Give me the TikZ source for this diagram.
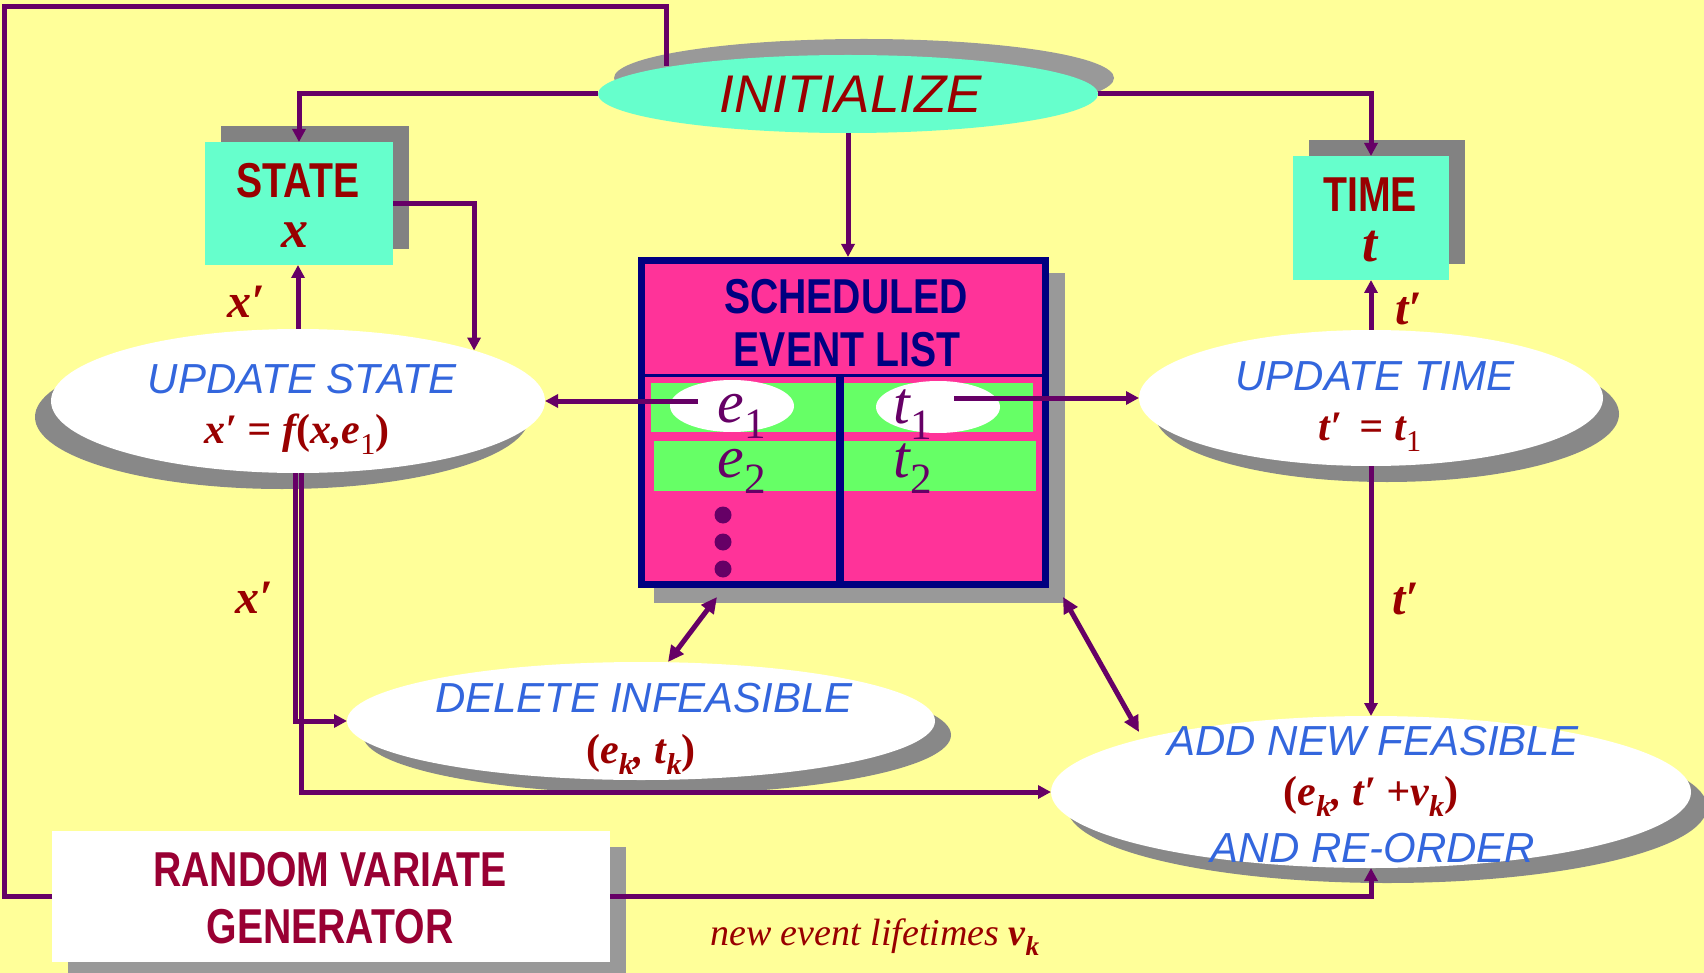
\documentclass[tikz,border=0pt]{standalone}
\usepackage{fontspec}
\usepackage{graphicx}
\setmainfont{Liberation Serif}
\setsansfont{Liberation Sans}
\newfontfamily\narrowsans[FakeStretch=0.8]{Liberation Sans Bold}
\usetikzlibrary{shapes.geometric,arrows.meta,shadows}
\definecolor{bgyellow}{HTML}{FFFF99}
\definecolor{lineviolet}{HTML}{660066}
\definecolor{aqua}{HTML}{66FFCC}
\definecolor{ellgray}{HTML}{888888}
\definecolor{boxgray}{HTML}{828282}
\definecolor{listgray}{HTML}{999999}
\definecolor{hotpink}{HTML}{FF3399}
\definecolor{navyb}{HTML}{000080}
\definecolor{lgreen}{HTML}{66FF66}
\definecolor{textblue}{HTML}{3366DD}
\definecolor{darkred}{HTML}{990000}
\definecolor{crimson}{HTML}{990033}
\newcommand\lo[1]{\raisebox{-0.28em}{\scalebox{0.72}{#1}}}
\newcommand\lpar{{\upshape(}}
\newcommand\rpar{{\upshape)}}
\tikzset{
  conn/.style={draw=lineviolet, line width=5pt},
  arr/.style={conn, -{Triangle[length=13pt,width=13pt]}},
  dblarr/.style={conn, {Triangle[length=16pt,width=15pt]}-{Triangle[length=16pt,width=15pt]}},
  procell/.style={ellipse, fill=white, inner sep=0pt, outer sep=0pt},
  shad/.style 2 args={drop shadow={shadow xshift=#1pt, shadow yshift=#2pt, fill=ellgray, opacity=1}},
  varbox/.style={rectangle, fill=aqua, inner sep=0pt, outer sep=0pt,
     drop shadow={shadow xshift=16pt, shadow yshift=16pt, fill=boxgray, opacity=1}},
  lbl/.style={anchor=base, inner sep=0pt},
  boxfont/.style={lbl, font=\narrowsans\fontsize{49pt}{55pt}\selectfont},
  procfont/.style={lbl, text=textblue, font=\sffamily\itshape\fontsize{42pt}{50pt}\selectfont},
  formfont/.style={lbl, text=darkred, font=\rmfamily\bfseries\itshape\fontsize{42pt}{50pt}\selectfont},
  varfont/.style={lbl, text=darkred, font=\rmfamily\bfseries\itshape\fontsize{54pt}{60pt}\selectfont},
  edgefont/.style={lbl, text=darkred, font=\rmfamily\bfseries\itshape\fontsize{48pt}{55pt}\selectfont},
  listfont/.style={lbl, text=lineviolet, font=\rmfamily\itshape\fontsize{60pt}{66pt}\selectfont},
}
\begin{document}
\begin{tikzpicture}[x=1pt,y=-1pt]
\useasboundingbox (0,0) rectangle (1704,973);
\fill[bgyellow] (0,0) rectangle (1704,973);

% ---------- process ellipses ----------
\node[procell, fill=aqua, minimum width=500pt, minimum height=78pt,
  drop shadow={shadow xshift=16pt, shadow yshift=16pt, fill=listgray, opacity=1}] (init) at (848,94) {};
\node[procell, minimum width=494pt, minimum height=144pt, shad={-16}{-16}] (ustate) at (298,401) {};
\node[procell, minimum width=464pt, minimum height=136pt, shad={16}{-16}] (utime) at (1371,398) {};
\node[procell, minimum width=588pt, minimum height=118pt, shad={16}{-14}] (delete) at (641,721) {};
\node[procell, minimum width=640pt, minimum height=152pt, shad={16}{-15}] (addnew) at (1371,792) {};

% ---------- state / time boxes ----------
\node[varbox, minimum width=188pt, minimum height=123pt] (state) at (299,203.5) {};
\node[varbox, minimum width=156pt, minimum height=124pt] (time) at (1371,218) {};

% ---------- random variate generator ----------
\fill[listgray] (68,847) rectangle (626,980);
\node[rectangle, fill=white, inner sep=0pt, outer sep=0pt, minimum width=558pt, minimum height=131pt] (rv) at (331,896.5) {};

% ---------- scheduled event list ----------
\fill[listgray] (654,273) rectangle (1065,603);
\node[rectangle, draw=navyb, line width=7pt, fill=hotpink, inner sep=0pt,
  minimum width=404pt, minimum height=324pt] (evl) at (843.5,422.5) {};
\fill[lgreen] (651,383) rectangle (836,432);
\fill[lgreen] (844,383) rectangle (1033,432);
\fill[lgreen] (654,441) rectangle (836,491);
\fill[lgreen] (844,441) rectangle (1036,491);
\draw[navyb, line width=3pt] (641.5,375) -- (1045.5,375);
\draw[navyb, line width=8pt] (840,375) -- (840,584.5);
\node[procell, minimum width=124pt, minimum height=52pt] (e1cell) at (732,406) {};
\node[procell, minimum width=124pt, minimum height=52pt] (t1cell) at (938,407) {};
\fill[lineviolet] (723,515) circle[radius=8.5pt];
\fill[lineviolet] (723,542) circle[radius=8.5pt];
\fill[lineviolet] (723,569) circle[radius=8.5pt];

% ---------- texts ----------
\node[lbl, text=darkred, font=\sffamily\itshape\fontsize{53pt}{60pt}\selectfont] (lInit) at (851,113) {INITIALIZE};
\node[boxfont, text=darkred, text depth=0pt] (lState) at (298,198) {STATE};
\node[varfont, text height=25pt, text depth=0pt] (lStateVar) at (295,248) {x};
\node[boxfont, text=darkred, text depth=0pt] (lTime) at (1370,212) {TIME};
\node[varfont, text height=33pt, text depth=0pt] (lTimeVar) at (1370,262) {t};
\node[boxfont, text=navyb] (lSched1) at (846,313) {SCHEDULED};
\node[boxfont, text=navyb] (lSched2) at (847,366) {EVENT LIST};
\node[listfont] (lE1) at (742,422) {e\lo{\upshape 1}};
\node[listfont] (lE2) at (742,477) {e\lo{\upshape 2}};
\node[listfont] (lT1) at (913,423) {t\lo{\upshape 1}};
\node[listfont] (lT2) at (913,477) {t\lo{\upshape 2}};
\node[procfont] (lUS1) at (302,393) {UPDATE STATE};
\node[formfont] (lUS2) at (297,443) {x′ = f\lpar x,e\lo{\upshape\mdseries 1}\rpar};
\node[procfont] (lUT1) at (1375,390) {UPDATE TIME};
\node[formfont] (lUT2) at (1370,440) {t′ \,= t\lo{\upshape\mdseries 1}};
\node[procfont] (lDel1) at (644,712) {DELETE INFEASIBLE};
\node[formfont] (lDel2) at (641,763) {\lpar e\lo{k}, t\lo{k}\rpar};
\node[procfont] (lAdd1) at (1373,755) {ADD NEW FEASIBLE};
\node[formfont] (lAdd2) at (1371,805) {\lpar e\lo{k}, t′ +v\lo{k}\rpar};
\node[procfont] (lAdd3) at (1373,862) {AND RE-ORDER};
\node[boxfont, text=crimson] (lRV1) at (330,886) {RANDOM VARIATE};
\node[boxfont, text=crimson] (lRV2) at (330,943) {GENERATOR};
\node[edgefont] (lXa) at (246,318) {x′};
\node[edgefont] (lXb) at (254,613) {x′};
\node[edgefont] (lTa) at (1409,324) {t′};
\node[edgefont] (lTb) at (1406,614) {t′};
\node[anchor=base west, inner sep=0pt, text=darkred, font=\rmfamily\itshape\fontsize{38pt}{44pt}\selectfont] (lNote) at (710,945) {new event lifetimes {\bfseries v\lo{k}}};

% ---------- connectors ----------
\coordinate (loopEnd) at (666,66);
\coordinate (e1out) at (698,401);
\coordinate (t1out) at (954,398);
\coordinate (evlDel) at (717,597);
\coordinate (evlAdd) at (1063,597);
\coordinate (addTip) at (1139,732);

\draw[conn] (rv.west) -| (4,7) -| (loopEnd);
\draw[arr] (init.west) -| (state.north);
\draw[arr] (init.east) -| (time.north);
\draw[arr] (init.south) -- (init.south |- evl.north);
\draw[arr] (ustate.north) -- (ustate.north |- state.south);
\draw[arr] (state.east) -| (ustate.16.25);
\draw[arr] (e1out) -- (ustate.east);
\draw[arr] (t1out) -- (utime.west);
\draw[arr] (utime.north) -- (time.south);
\draw[arr] (utime.south) -- (addnew.north);
\draw[arr] ([xshift=-3pt]ustate.south) |- (delete.west);
\draw[arr] ([xshift=3pt]ustate.south) |- (addnew.west);
\draw[arr] (rv.east) -| (addnew.south);
\draw[dblarr] (evlDel) -- (delete.north -| 668,0);
\draw[dblarr] (evlAdd) -- (addTip);
\end{tikzpicture}
\end{document}
